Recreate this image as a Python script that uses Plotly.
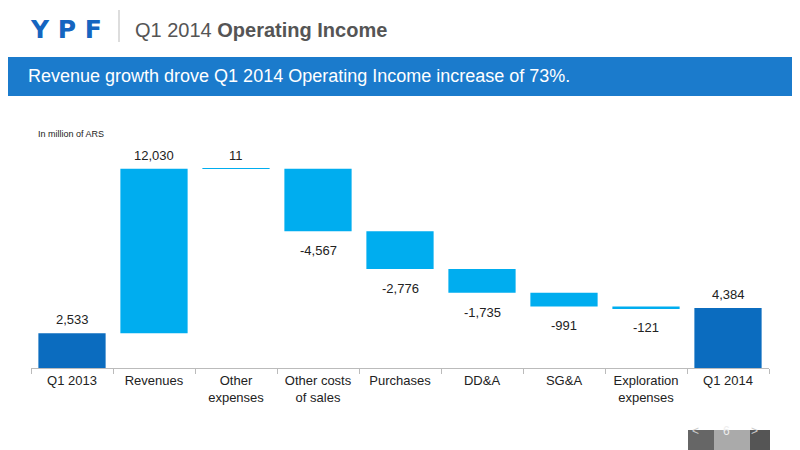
import plotly.graph_objects as go

categories = ["Q1 2013", "Revenues", "Other<br>expenses", "Other costs<br>of sales", "Purchases",
              "DD&A", "SG&A", "Exploration<br>expenses", "Q1 2014"]
start_value = 2533
deltas = [12030, 11, -4567, -2776, -1735, -991, -121]
end_value = 4384

DARK = "#0b6cbf"
LIGHT = "#00adef"

bases, heights, colors, labels = [0], [start_value], [DARK], [start_value]
running = start_value
for d in deltas:
    if d >= 0:
        bases.append(running)
        heights.append(d)
    else:
        bases.append(running + d)
        heights.append(-d)
    colors.append(LIGHT)
    labels.append(d)
    running += d
bases.append(0)
heights.append(end_value)
colors.append(DARK)
labels.append(end_value)

fig = go.Figure()
fig.add_trace(go.Bar(x=categories, y=heights, base=bases, marker_color=colors,
                     marker_line_width=0, width=0.82, hoverinfo="skip"))

for c, b, h, v in zip(categories, bases, heights, labels):
    if v >= 0:
        y, ya, shift = b + h, "bottom", 4
    else:
        y, ya, shift = b, "top", -10
    fig.add_annotation(x=c, y=y, text=f"{v:,}", showarrow=False, yanchor=ya, yshift=shift,
                       font=dict(size=13, color="#222"))

# page body has an 8px offset; work in screen pixels
OFF = 8
L, R, T, B = 31 - OFF, 800 - 769 + OFF, 156 - OFF, 450 - 368 + OFF

fig.update_layout(
    width=800, height=450,
    margin=dict(l=L, r=R, t=T, b=B, autoexpand=False),
    paper_bgcolor="white", plot_bgcolor="white",
    font=dict(family="Liberation Sans, Arial, sans-serif", color="#222"),
    showlegend=False,
    xaxis=dict(showline=True, linecolor="#bbb", ticks="outside", tickcolor="#bbb", automargin=False,
               ticklen=5, tickson="boundaries", tickfont=dict(size=13, color="#222")),
    yaxis=dict(visible=False, range=[0, 15500], automargin=False),
)

def px(xs):
    return (xs - OFF - L) / (800 - L - R)

def py(ys):
    return (450 - B - (ys - OFF)) / (450 - T - B)

fig.add_shape(type="rect", xref="paper", yref="paper", x0=px(0), x1=px(810), y0=py(96), y1=py(57),
              fillcolor="#1b7bcc", line_width=0, layer="below")
fig.add_shape(type="line", xref="paper", yref="paper", x0=px(119), x1=px(119), y0=py(42), y1=py(10),
              line=dict(color="#bbb", width=1))
fig.add_annotation(xref="paper", yref="paper", x=px(28), y=py(29), xanchor="left", yanchor="middle",
                   text="<b>Y P F</b>", showarrow=False,
                   font=dict(size=25, color="#1565c0", family="DejaVu Sans, sans-serif"))
fig.add_annotation(xref="paper", yref="paper", x=px(133), y=py(30), xanchor="left", yanchor="middle",
                   text="Q1 2014 <b>Operating Income</b>", showarrow=False,
                   font=dict(size=20, color="#555"))
fig.add_annotation(xref="paper", yref="paper", x=px(26), y=py(76), xanchor="left", yanchor="middle",
                   text="Revenue growth drove Q1 2014 Operating Income increase of 73%.",
                   showarrow=False, font=dict(size=18, color="white"))
fig.add_annotation(xref="paper", yref="paper", x=px(36), y=py(134), xanchor="left", yanchor="middle",
                   text="In million of ARS", showarrow=False, font=dict(size=9, color="#222"))
for x0, x1, col in [(688, 714, "#666"), (714, 750, "#aaa"), (750, 770, "#555")]:
    fig.add_shape(type="rect", xref="paper", yref="paper", x0=px(x0), x1=px(x1), y0=py(452), y1=py(430),
                  fillcolor=col, line_width=0)
for xc, t, fc in [(701, "&lt;", "#ccc"), (732, "6", "#eee"), (760, "&gt;", "#ccc")]:
    fig.add_annotation(xref="paper", yref="paper", x=px(xc), y=py(440), text=t, showarrow=False,
                       font=dict(size=12, color=fc))

fig.write_html("out.html")
